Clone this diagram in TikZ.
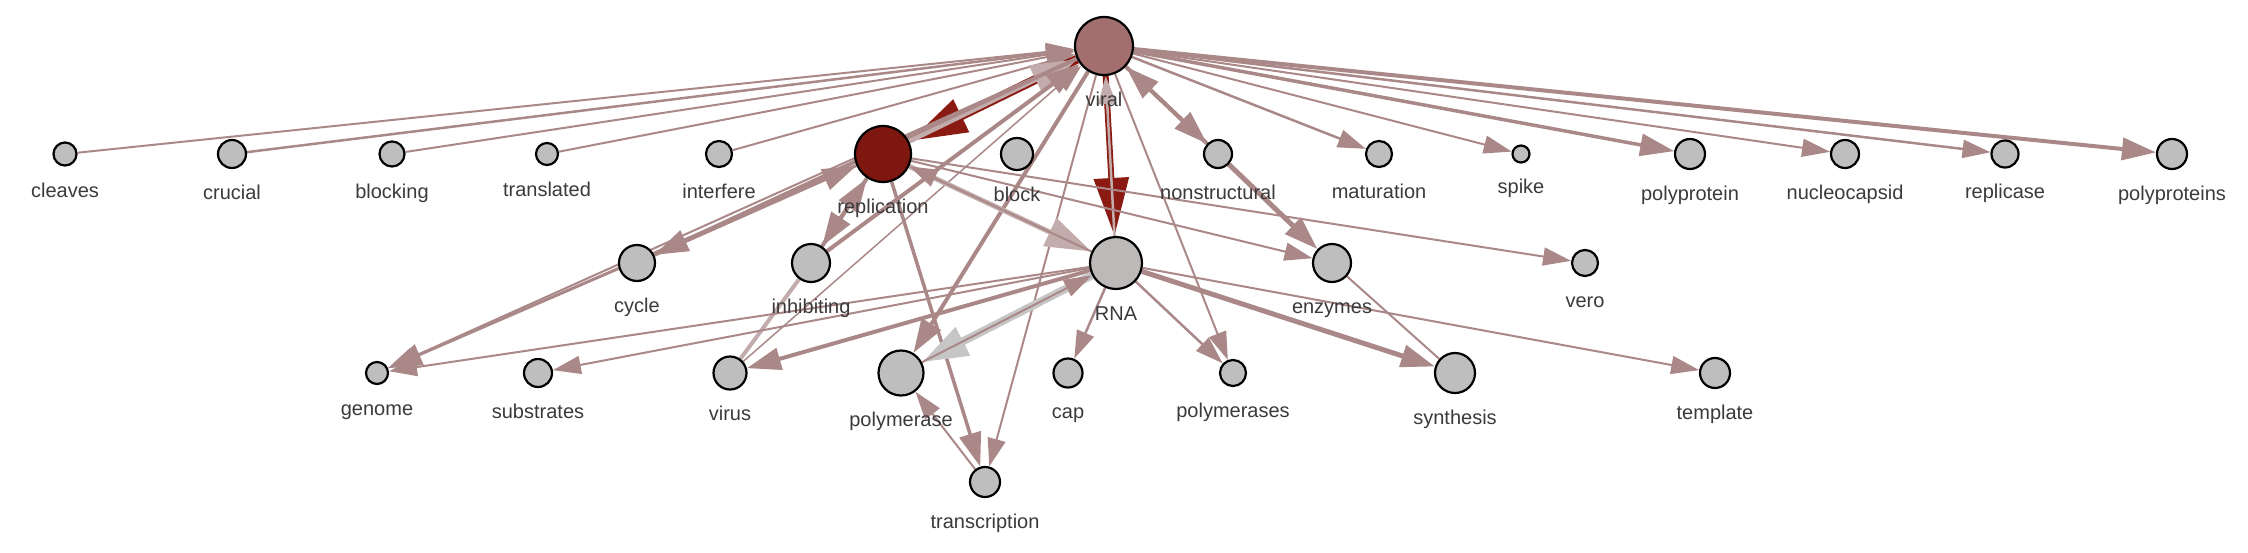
\documentclass[tikz,border=0pt]{standalone}
\usepackage{fontspec}
\setmainfont{Liberation Sans}
\usetikzlibrary{arrows.meta,backgrounds}
\definecolor{edgec}{HTML}{AB8888}
\definecolor{palec}{HTML}{C2ACAC}
\definecolor{darkr}{HTML}{8A1A12}
\definecolor{grayedge}{HTML}{C6C6C6}
\definecolor{nodegray}{HTML}{BEBEBE}
\definecolor{rnagray}{HTML}{BDB9B9}
\definecolor{viralc}{HTML}{A26E6E}
\definecolor{replc}{HTML}{7E1710}
\definecolor{lblc}{HTML}{3A3A3A}
\begin{document}
\begin{tikzpicture}[x=1pt,y=-1pt,
  vn/.style={circle,draw=black,line width=2.2pt,fill=nodegray,inner sep=0pt,minimum size=#1},
  lbl/.style={anchor=base,font=\fontsize{20}{20}\selectfont,text=lblc,inner sep=0pt},
  ed/.style={draw=edgec,line width=#1},
  tipS/.style={-{Triangle[length=28pt,width=18pt]}},
  tipM/.style={-{Triangle[length=34pt,width=22pt]}},
  tipL/.style={-{Triangle[length=46pt,width=30pt]}},
  tipX/.style={-{Triangle[length=58pt,width=34pt]}},
]
\useasboundingbox (0,0) rectangle (2248,552);
% nodes
\node[vn=23pt] (cleaves) at (65,154) {};
\node[vn=28pt] (crucial) at (232,154) {};
\node[vn=25pt] (blocking) at (392,154) {};
\node[vn=22pt] (translated) at (547,154) {};
\node[vn=26pt] (interfere) at (719,154) {};
\node[vn=58pt,fill=viralc] (viral) at (1104,46) {};
\node[vn=56pt,fill=replc] (replication) at (883,154) {};
\node[vn=32pt] (block) at (1017,154) {};
\node[vn=28pt] (nonstructural) at (1218,154) {};
\node[vn=26pt] (maturation) at (1379,154) {};
\node[vn=17pt] (spike) at (1521,154) {};
\node[vn=30pt] (polyprotein) at (1690,154) {};
\node[vn=28pt] (nucleocapsid) at (1845,154) {};
\node[vn=27pt] (replicase) at (2005,154) {};
\node[vn=30pt] (polyproteins) at (2172,154) {};
\node[vn=36pt] (cycle) at (637,263) {};
\node[vn=38pt] (inhibiting) at (811,263) {};
\node[vn=52pt,fill=rnagray] (RNA) at (1116,263) {};
\node[vn=38pt] (enzymes) at (1332,263) {};
\node[vn=26pt] (vero) at (1585,263) {};
\node[vn=22pt] (genome) at (377,373) {};
\node[vn=28pt] (substrates) at (538,373) {};
\node[vn=33pt] (virus) at (730,373) {};
\node[vn=45pt] (polymerase) at (901,373) {};
\node[vn=29pt] (cap) at (1068,373) {};
\node[vn=26pt] (polymerases) at (1233,373) {};
\node[vn=40pt] (synthesis) at (1455,373) {};
\node[vn=30pt] (template) at (1715,373) {};
\node[vn=30pt] (transcription) at (985,482) {};
% edges
\begin{pgfonlayer}{background}
\draw[ed=2pt,tipS] (cleaves) -- (viral);
\draw[ed=2.5pt,tipS] (crucial) -- (viral);
\draw[ed=2pt,tipS] (blocking) -- (viral);
\draw[ed=2pt,tipS] (translated) -- (viral);
\draw[ed=2pt,tipS] (interfere) -- (viral);
\draw[ed=2.5pt,tipS] (viral) -- (maturation);
\draw[ed=2pt,tipS] (viral) -- (spike);
\draw[ed=3.5pt,tipM] (viral) -- (polyprotein);
\draw[ed=2pt,tipS] (viral) -- (nucleocapsid);
\draw[ed=2.5pt,tipS] (viral) -- (replicase);
\draw[ed=4pt,tipM] (viral) -- (polyproteins);
\draw[ed=4pt,tipM] (viral) -- (nonstructural);
\draw[ed=4pt,tipM] (nonstructural) -- (viral);
\draw[ed=9pt,draw=darkr,tipX] (viral) -- (replication);
\draw[ed=5pt,draw=palec,tipL] (replication) -- (viral);
\draw[ed=6pt,draw=darkr,tipX] (viral) -- (RNA);
\draw[ed=2.5pt,draw=palec,tipS] (RNA) -- (viral);
\draw[ed=4pt,tipM] (viral) -- (cycle);
\draw[ed=3pt,tipM] (cycle) -- (replication);
\draw[ed=3pt,tipM] (replication) -- (genome);
\draw[ed=2pt,tipS] (viral) -- (genome);
\draw[ed=4pt,tipM] (replication) -- (inhibiting);
\draw[ed=4pt,tipM] (inhibiting) -- (replication);
\draw[ed=4pt,tipM] (inhibiting) -- (viral);
\draw[ed=4pt,draw=palec] (virus) -- (inhibiting);
\draw[ed=1.5pt,tipS] (virus) -- (viral);
\draw[ed=4pt,tipM] (viral) -- (polymerase);
\draw[ed=2pt,tipS] (viral) -- (transcription);
\draw[ed=2pt,tipS] (viral) -- (polymerases);
\draw[ed=3.5pt,tipM] (replication) -- (transcription);
\draw[ed=2pt,tipS] (transcription) -- (polymerase);
\draw[ed=2pt,tipS] (replication) -- (vero);
\draw[ed=2pt,tipS] (replication) -- (enzymes);
\draw[ed=5pt,draw=palec,tipL] (replication) -- (RNA);
\draw[ed=2pt,tipS] (RNA) -- (replication);
\draw[ed=5pt,tipM] (nonstructural) -- (enzymes);
\draw[ed=2pt] (enzymes) -- (synthesis);
\draw[ed=2pt,tipS] (RNA) -- (genome);
\draw[ed=2pt,tipS] (RNA) -- (substrates);
\draw[ed=4pt,tipM] (RNA) -- (virus);
\draw[ed=8pt,draw=grayedge,tipL] (RNA) -- (polymerase);
\draw[ed=2pt,tipS] (polymerase) -- (RNA);
\draw[ed=2.5pt,tipS] (RNA) -- (cap);
\draw[ed=2.5pt,tipS] (RNA) -- (polymerases);
\draw[ed=5pt,tipM] (RNA) -- (synthesis);
\draw[ed=2pt,tipS] (RNA) -- (template);
\end{pgfonlayer}
% labels
\foreach \n/\t/\b in {cleaves/cleaves/197,crucial/crucial/199,blocking/blocking/198,
  translated/translated/196,interfere/interfere/198,viral/viral/106,replication/replication/213,
  block/block/201,nonstructural/nonstructural/199,maturation/maturation/198,spike/spike/193,
  polyprotein/polyprotein/200,nucleocapsid/nucleocapsid/199,replicase/replicase/198,
  polyproteins/polyproteins/200,cycle/cycle/312,inhibiting/inhibiting/313,RNA/RNA/320,
  enzymes/enzymes/313,vero/vero/307,genome/genome/415,substrates/substrates/418,
  virus/virus/420,polymerase/polymerase/426,cap/cap/418,polymerases/polymerases/417,
  synthesis/synthesis/424,template/template/419,transcription/transcription/528}
{\node[lbl] (\n-l) at (\n.center |- 0,\b) {\t};}
\end{tikzpicture}
\end{document}
